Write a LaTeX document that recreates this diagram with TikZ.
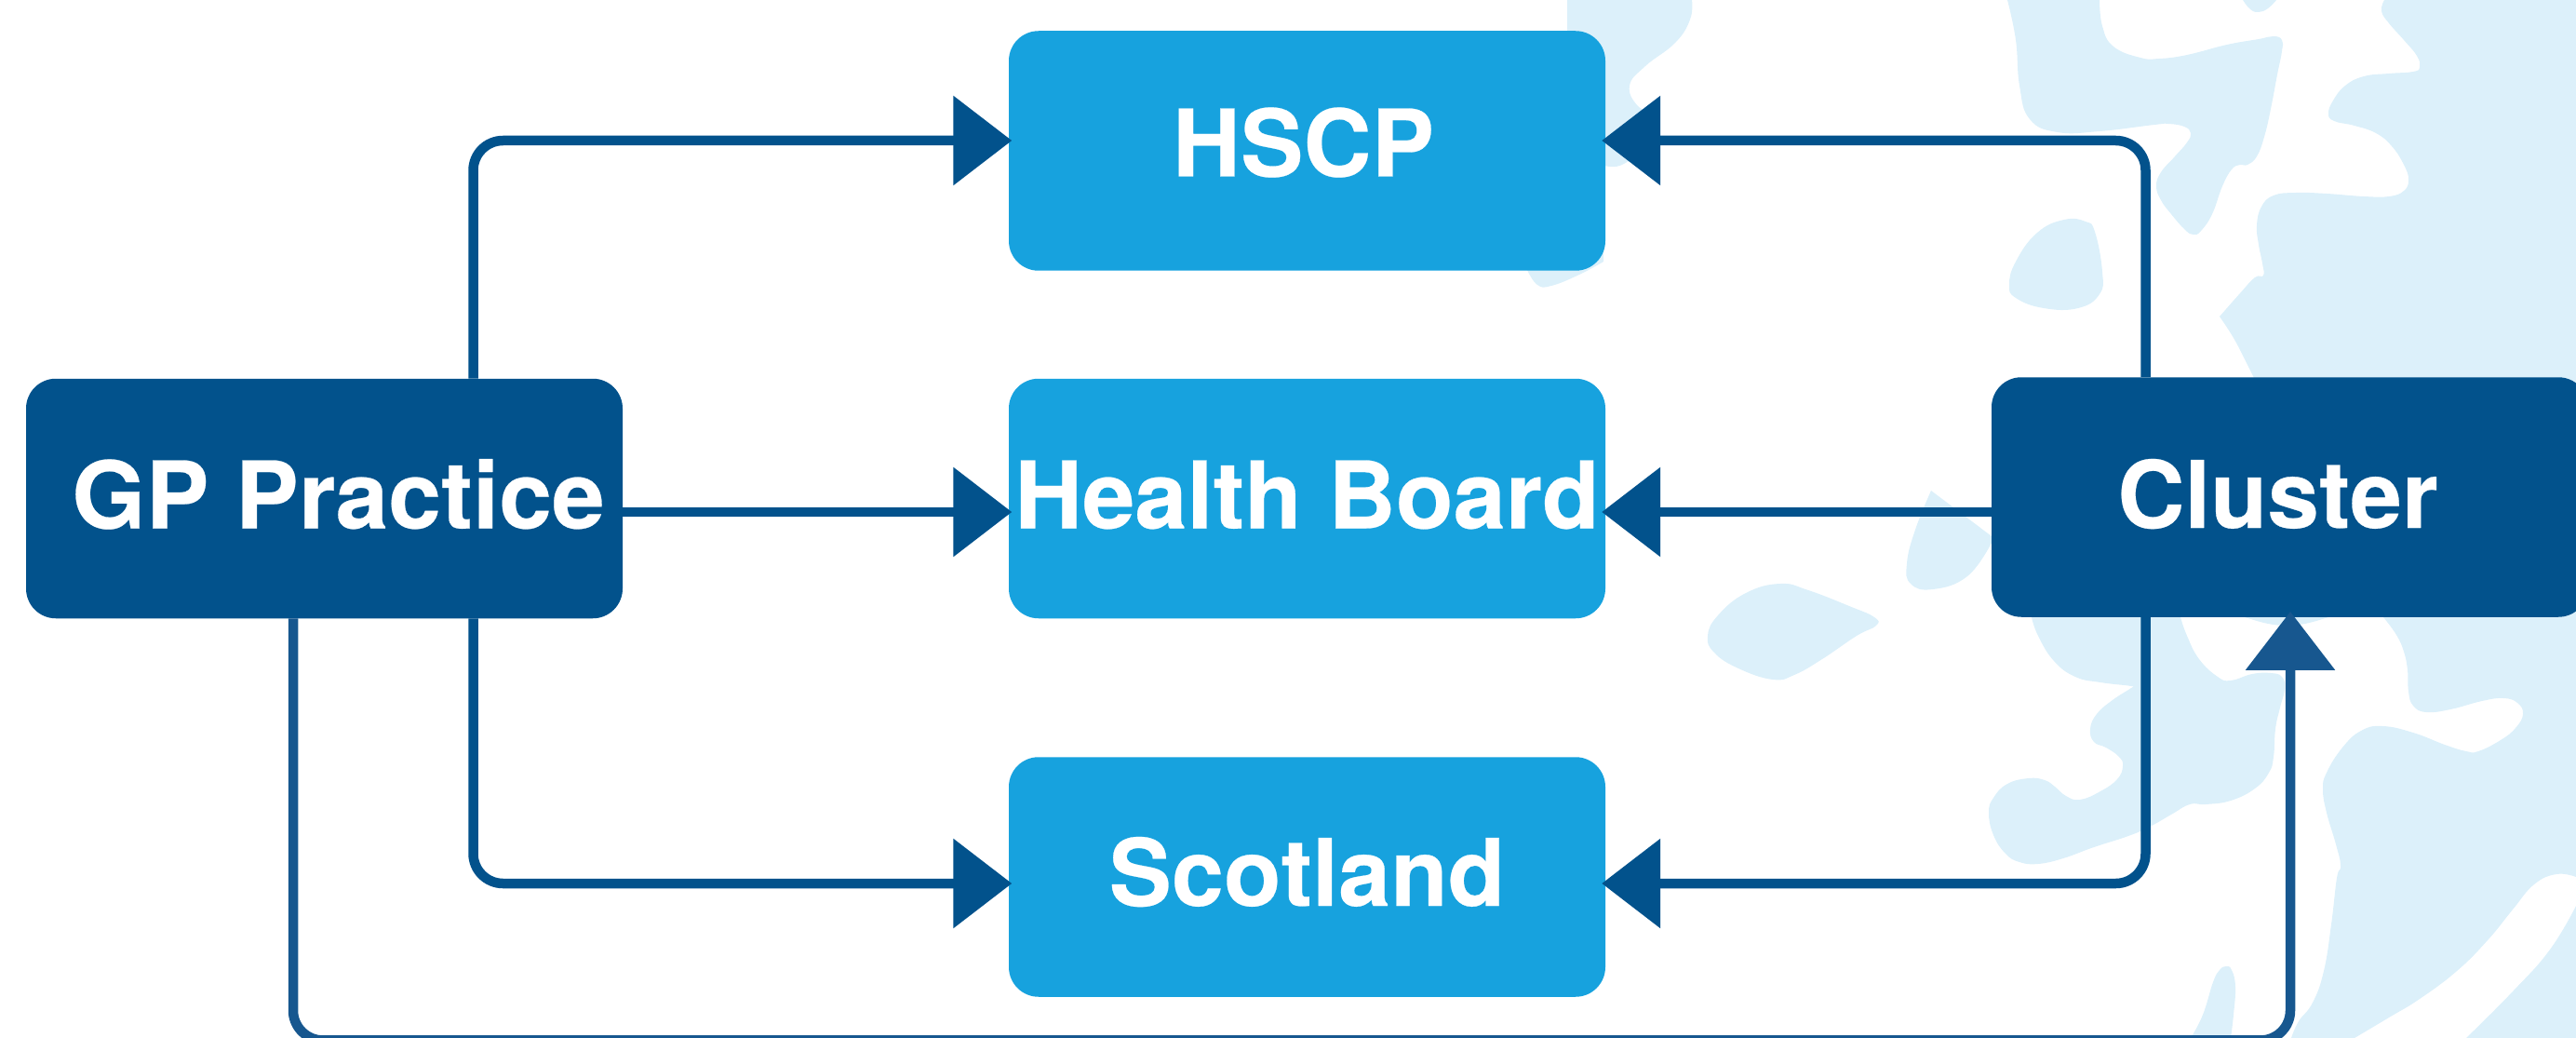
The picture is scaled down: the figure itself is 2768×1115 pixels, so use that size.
\documentclass[tikz,border=0pt]{standalone}
\usepackage{fontspec}
\setmainfont[Kerning=Off,BoldFeatures={FakeBold=0.25}]{TeX Gyre Heros}
\usetikzlibrary{arrows.meta,calc}
\definecolor{navyc}{HTML}{02528C}
\definecolor{farc}{HTML}{17578F}
\definecolor{skyc}{HTML}{17A2DE}
\definecolor{blobc}{HTML}{DCF0FA}
\newcommand{\widened}[1]{\addfontfeature{FakeStretch=#1}}
\tikzset{
  basebox/.style={rectangle,rounded corners=32pt,minimum width=641pt,minimum height=257.5pt,inner sep=0pt,
    text=white,font=\fontsize{100}{100}\selectfont\bfseries,text height=72pt,text depth=8pt},
  darkbox/.style={basebox,fill=navyc},
  lightbox/.style={basebox,fill=skyc},
  conn/.style={draw=navyc,line width=10.5pt,rounded corners=32pt,-{Triangle[length=63pt,width=94pt]}},
  farconn/.style={conn,draw=farc,line width=10.5pt},
  blob/.style={fill=blobc,draw=none},
  sm/.style={smooth,tension=0.75}
}
\begin{document}
\begin{tikzpicture}[x=1pt,y=-1pt]
\path[use as bounding box,clip] (0,0) rectangle (2768,1115);
% background map
\fill[blob] plot[sm] coordinates {(2410,0)(2418,10)(2427,13)(2437,9)(2446,0)} -- cycle;
\fill[blob] plot[sm] coordinates {(1818,0)(1816,21)(1800,46)(1768,71)(1751,92)(1760,114)(1779,124)(1775,150)(1745,176)(1725,178)}
  -- (1723,281) -- plot[sm] coordinates {(1723,281)(1697,295)(1667,307)(1652,306)(1641,290)} -- (1684,200) -- (1684,0) -- cycle;
\fill[blob] plot[sm] coordinates {(2157,0)(2166,43)(2170,92)(2181,128)(2211,142)(2256,141)(2315,134)(2330,133)(2347,136)(2354,143)(2350,153)(2337,168)(2322,185)(2317,200)(2322,215)(2333,230)(2348,247)(2357,252)(2365,248)(2377,230)(2388,200)(2398,182)(2407,177)(2415,177)(2425,168)(2433,147)(2440,117)(2447,80)(2452,55)(2452,43)(2443,39)(2427,42)(2393,48)(2350,59)(2320,63)(2300,62)(2271,50)(2259,28)(2256,0)} -- cycle;
\fill[blob] plot[sm] coordinates {(2562,0)(2559,12)(2567,25)(2583,43)(2597,60)(2600,72)(2593,77)(2567,79)(2540,82)(2520,92)(2507,108)(2502,122)(2508,130)(2530,135)(2553,143)(2570,157)(2583,177)(2588,193)(2583,205)(2567,211)(2540,211)(2500,208)(2467,207)(2443,210)(2430,222)(2425,242)(2427,263)(2431,283)(2432,296)(2423,298)(2407,315)(2385,340)}
  -- plot[sm] coordinates {(2385,340)(2400,363)(2413,388)(2422,406)}
  -- plot[sm] coordinates {(2561,663)(2575,682)(2583,700)(2587,720)(2588,743)(2593,758)(2607,765)(2633,762)(2667,753)(2690,750)(2705,755)(2711,767)(2703,782)(2687,795)(2663,807)(2650,807)(2627,800)(2593,787)(2560,780)(2537,785)(2517,803)(2500,830)(2496,848)(2500,873)(2510,907)(2515,930)(2511,943)(2505,993)(2497,1043)(2485,1077)(2470,1097)(2462,1115)}
  -- plot[sm] coordinates {(2530,1115)(2567,1093)(2600,1073)(2640,1043)(2673,1010)(2700,977)(2723,950)(2747,939)(2768,942)}
  -- (2768,0) -- cycle;
\fill[blob] plot[sm] coordinates {(2650,1115)(2700,1065)(2740,1020)(2768,973)} -- (2768,1115) -- cycle;
\fill[blob] plot[sm] coordinates {(2400,655)(2412,663)(2457,672)(2502,663)(2514,655)} -- cycle;
\fill[blob] plot[sm] coordinates {(2183,663)(2190,683)(2207,710)(2230,727)(2257,733)(2290,737)(2290,739)(2270,752)(2253,767)(2246,783)(2250,797)(2263,803)(2277,813)(2281,823)(2275,837)(2257,850)(2235,859)(2220,855)(2208,845)(2197,838)(2180,836)(2157,842)(2142,857)(2137,873)(2142,897)(2155,917)(2170,926)(2190,928)(2217,922)(2250,910)(2287,898)(2310,888)(2333,875)(2353,864)(2370,864)(2397,860)(2423,847)(2438,830)(2443,813)(2445,783)(2450,760)(2455,740)(2452,727)(2440,723)(2420,724)(2397,731)(2383,727)(2363,708)(2350,683)(2343,663)} -- cycle;
\fill[blob] plot[sm] coordinates {(2354,1115)(2367,1090)(2378,1055)(2385,1042)(2392,1038)(2398,1042)(2402,1060)(2400,1090)(2397,1115)} -- cycle;
\fill[blob] plot[smooth cycle,tension=0.75] coordinates {(2159,306)(2166,281)(2189,250)(2218,236)(2241,238)(2251,249)(2259,292)(2256,316)(2233,331)(2196,331)(2166,320)};
\fill[blob] plot[sm] coordinates {(2075,527)(2058,569)(2049,605)(2053,627)(2077,633)(2114,619)(2140,583)} -- (2150,583) -- (2140,576) -- cycle;
\fill[blob] plot[smooth cycle,tension=0.75] coordinates {(1835,683)(1846,661)(1876,637)(1913,627)(1943,634)(1987,651)(2014,663)(2016,672)(1995,683)(1958,708)(1928,725)(1905,730)(1868,718)(1842,701)};
% boxes
\node[darkbox] (gp) at (348.5,535.5) {\hspace*{30pt}\widened{1.02}GP Practice};
\node[lightbox,text depth=17pt] (hscp) at (1404.5,162) {\hspace*{-8pt}\widened{1.012}HSCP};
\node[lightbox] (board) at (1404.5,535.5) {\widened{1.01}Health Board};
\node[lightbox,text depth=10pt] (scot) at (1404.5,942) {\widened{1.008}Scotland};
\node[darkbox,text depth=6pt] (cluster) at (2460.5,534) {\hspace*{-26pt}Cluster};
% connectors
\draw[conn] ($(gp.north)+(160,0)$) |- ($(hscp.west)+(3.5,-11)$);
\draw[conn] ($(gp.east)+(0,14.5)$) -- ($(board.west)+(3.5,14.5)$);
\draw[conn] ($(gp.south)+(160,0)$) |- ($(scot.west)+(3.5,7)$);
\draw[conn] ($(cluster.north)+(-155,0)$) |- ($(hscp.east)+(-4,-11)$);
\draw[conn] ($(cluster.west)+(0,16)$) -- ($(board.east)+(-4,14.5)$);
\draw[conn] ($(cluster.south)+(-155,0)$) |- ($(scot.east)+(-4,7)$);
\draw[farconn] ($(gp.south)+(-33.5,0)$) -- ++(0,453) -| ($(cluster.south)+(0.5,-6)$);
\end{tikzpicture}
\end{document}
